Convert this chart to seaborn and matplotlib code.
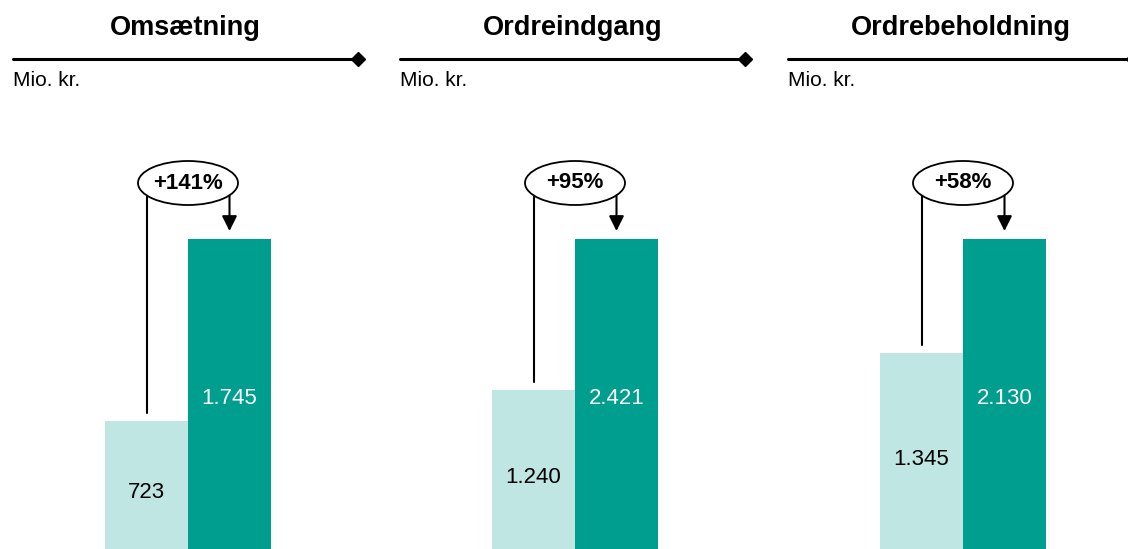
import matplotlib
matplotlib.use('Agg')
import matplotlib.pyplot as plt
from matplotlib.patches import Ellipse
import seaborn as sns

# data
panels = ['Omsætning', 'Ordreindgang', 'Ordrebeholdning']
periods = ['Før', 'Nu']
before = [723, 1240, 1345]
after = [1745, 2421, 2130]
growth = ['+141%', '+95%', '+58%']
unit = 'Mio. kr.'

light = '#BFE6E2'
dark = '#009E8E'

sns.set_theme(style='white')
plt.rcParams['font.family'] = ['Liberation Sans', 'DejaVu Sans']

W, H = 1128, 549
fig = plt.figure(figsize=(W / 100, H / 100), dpi=100)

panel_left = [13, 400, 788]
panel_w = 345
bar_px = 83      # pixel width of one bar
bar_left = 92    # px from panel left to first bar
tall_px = 310    # pixel height of the taller bar


def fmt(v):
    return f'{v:,}'.replace(',', '.')


for i, name in enumerate(panels):
    ax = fig.add_axes([panel_left[i] / W, 0, panel_w / W, 1])
    vals = [before[i], after[i]]
    sns.barplot(x=periods, y=vals, hue=periods, palette=[light, dark],
                width=1, saturation=1, linewidth=0, legend=False, ax=ax)

    tall = max(vals)
    ppd = tall / tall_px           # data units per pixel
    ax.set_ylim(0, H * ppd)
    x0 = -0.5 - bar_left / bar_px
    ax.set_xlim(x0, x0 + panel_w / bar_px)
    ax.set_axis_off()

    # value labels in the middle of the bars
    ax.text(0, vals[0] / 2 - 8 * ppd, fmt(vals[0]), ha='center', va='center',
            fontsize=16, color='black')
    ax.text(1, vals[1] / 2 - 5 * ppd, fmt(vals[1]), ha='center', va='center',
            fontsize=16, color='white')

    # header: title, rule with diamond, unit
    ax.text(0.5, 1 - 28 / H, name, transform=ax.transAxes, ha='center',
            va='center', fontsize=19.5, fontweight='bold', color='black')
    ax.plot([0, 1], [1 - 59 / H] * 2, transform=ax.transAxes, color='black',
            lw=2.2, clip_on=False)
    ax.plot([1], [1 - 59 / H], transform=ax.transAxes, marker='D',
            color='black', markersize=7, clip_on=False)
    ax.text(0, 1 - 81 / H, unit, transform=ax.transAxes, ha='left',
            va='center', fontsize=15, color='black')

    # growth bubble with connector and arrow
    yc = tall + 56 * ppd
    ax.plot([0, 0], [vals[0] + 8 * ppd, yc], color='black', lw=1.5, zorder=3)
    ax.annotate('', xy=(1, tall + 8 * ppd), xytext=(1, yc),
                arrowprops=dict(arrowstyle='-|>,head_length=0.6,head_width=0.3',
                                color='black', lw=1.5, mutation_scale=15,
                                shrinkA=0, shrinkB=0), zorder=3)
    ax.add_patch(Ellipse((0.5, yc), width=100 / bar_px, height=44 * ppd,
                         facecolor='white', edgecolor='black', lw=1.3, zorder=5))
    ax.text(0.5, yc, growth[i], ha='center', va='center', fontsize=16,
            fontweight='bold', color='black', zorder=6)

fig.savefig('out.png', dpi=100)
